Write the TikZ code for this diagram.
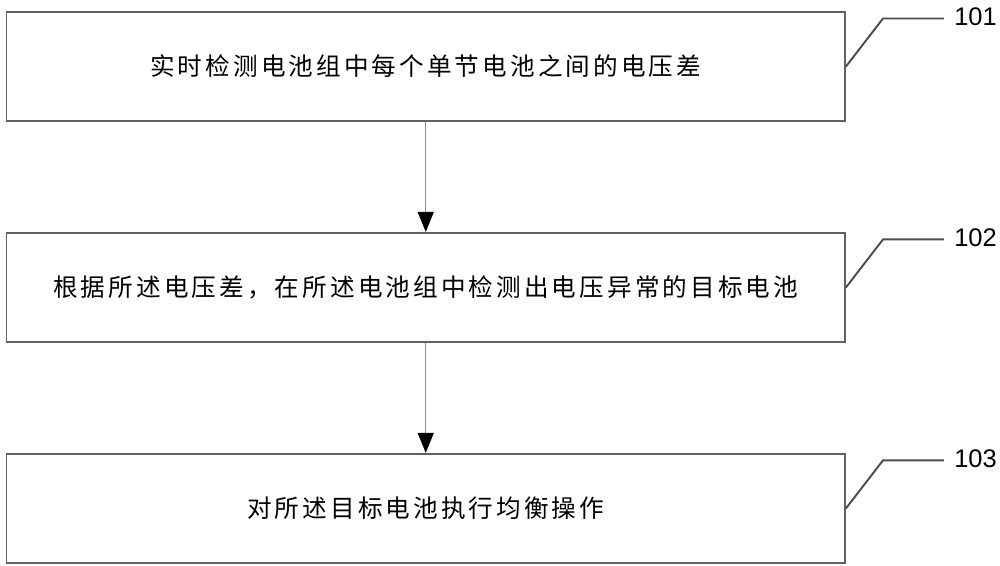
\documentclass[tikz,border=0pt]{standalone}
\usepackage{fontspec}
\setmainfont{Liberation Sans}
\newfontfamily\cjk[LetterSpace=12.6]{Noto Sans CJK SC}
\usetikzlibrary{arrows.meta,calc,positioning}

\begin{document}
\begin{tikzpicture}[>={Triangle[length=0.4cm,width=0.32cm,color=black]},
  stepbox/.style={draw=black!62,line width=1.1pt,minimum width=16.77cm,
    minimum height=2.18cm,inner sep=0pt,
    font=\cjk\fontsize{14pt}{16pt}\selectfont},
  lead/.style={draw=black!70,line width=1.1pt},
  numlabel/.style={font=\fontsize{14.5pt}{16pt}\selectfont,inner sep=0pt,anchor=west}]
  \useasboundingbox (0,0) rectangle (20,-11.32);
  % 步骤框
  \node[stepbox] (s1) at (8.515,-1.33) {实时检测电池组中每个单节电池之间的电压差};
  \node[stepbox,below=2.2cm of s1] (s2) {根据所述电压差，在所述电池组中检测出电压异常的目标电池};
  \node[stepbox,below=2.2cm of s2] (s3) {对所述目标电池执行均衡操作};
  % 箭头
  \draw[->,black!45,line width=0.6pt] (s1) -- (s2);
  \draw[->,black!45,line width=0.6pt] (s2) -- (s3);
  % 标号
  \foreach \i/\n in {1/101,2/102,3/103} {
    \coordinate (k\i) at ($(s\i.east)+(0.74,0.96)$);
    \coordinate (e\i) at ($(k\i)+(1.22,0)$);
    \draw[lead] (s\i.east) -- (k\i) -- (e\i);
    \node[numlabel,right=0.2cm of e\i,yshift=0.04cm] (n\i) {\n};
  }
\end{tikzpicture}
\end{document}
